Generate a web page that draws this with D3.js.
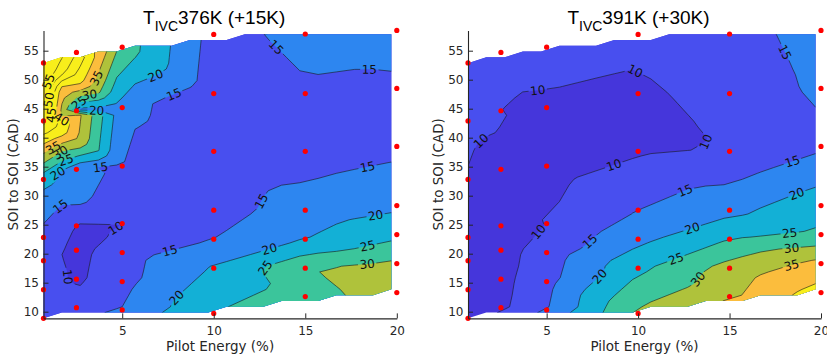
<!DOCTYPE html>
<html>
<head>
<meta charset="utf-8">
<script src="https://cdn.jsdelivr.net/npm/d3@7"></script>
<style>
  body { margin: 0; background: #fff; }
  svg { display: block; }
  text { font-family: "DejaVu Sans", sans-serif; }
</style>
</head>
<body>
<svg id="chart" width="827" height="356"></svg>
<script>
// Measurement grid: one column of SOI-to-SOI separations per pilot energy
const pilotEnergy = [0.7, 2.5, 5, 10, 15, 20];
const soiSeparation = [
  [52.9, 42.9, 32.8, 22.8, 18.8, 13.8, 8.85],
  [54.7, 44.65, 34.55, 24.8, 20.6, 15.6, 10.7],
  [55.6, 45.2, 35.1, 25.2, 20.2, 15.2, 10.3],
  [57.8, 47.6, 37.65, 27.5, 22.5, 17.5, 9.7],
  [57.88, 47.6, 37.65, 27.5, 22.5, 17.5, 12.6],
  [58.5, 48.5, 38.5, 28.3, 23.3, 18.3, 13.3]
];

// Measured response at each point, same layout as soiSeparation
const values376 = [
  [62, 52, 21.5, 13, 12, 12, 13],
  [50, 18, 16, 9.5, 8.4, 9, 12],
  [28, 16.5, 13.5, 10, 13, 13.5, 15],
  [13, 12, 11.5, 13, 15, 20.5, 25],
  [16.7, 14.3, 12.5, 17.3, 20, 29.5, 27.5],
  [17.5, 14, 13.7, 19, 23.7, 31, 33]
];
const values391 = [
  [12, 11, 9.7, 8.5, 8.5, 8.5, 8.5],
  [12, 10, 8, 8, 8, 8.5, 9],
  [12.5, 9, 8, 10, 12.5, 13.5, 14.5],
  [12, 8.5, 9.5, 15, 18.7, 24, 31],
  [13.5, 13, 10.4, 18.6, 25, 32, 34],
  [16.5, 15.6, 14.2, 23, 26, 36.5, 42]
];

const levels = [10, 15, 20, 25, 30, 35, 40, 45, 50, 55];
// fill colour below the first level, then one per level (saturating above 40)
const bandColors = ["#4536db", "#484fef", "#2d86f0", "#13b0d6", "#3bc59b",
                    "#afc23b", "#fbbd3d", "#f8ee1b", "#f8ee1b", "#f8ee1b", "#f8ee1b"];
const xTicks = [5, 10, 15, 20];
const yTicks = [10, 15, 20, 25, 30, 35, 40, 45, 50, 55];

// inline contour labels: [level, pilot energy, SOI separation]
const labels376 = [
  [15, 13.16, 54.8], [15, 18.5, 51.4], [15, 18.4, 35.0], [20, 6.9, 50.1], [15, 7.8, 47.65],
  [35, 3.65, 50.2], [30, 3.2, 47.65], [25, 2.58, 46.2], [20, 3.6, 44.5],
  [55, 1.2, 49.4], [50, 1.05, 46.5], [45, 1.05, 43.9], [40, 1.6, 42.2],
  [35, 1.15, 38.7], [30, 1.6, 37.6], [25, 1.87, 36.7], [20, 1.4, 34.1], [15, 3.77, 35.9],
  [15, 1.7, 27.8], [10, 4.6, 24.65], [10, 1.97, 16.0], [15, 7.6, 20.6], [20, 7.9, 12.6],
  [15, 13.16, 28.1], [20, 13.0, 21.3], [25, 12.6, 18.05],
  [20, 18.9, 25.5], [25, 18.4, 21.5], [30, 18.35, 19.4]
];
const labels391 = [
  [10, 9.92, 51.97], [10, 4.54, 47.4], [10, 13.93, 39.0], [10, 1.63, 38.75], [10, 8.64, 35.6],
  [15, 17.9, 54.55], [15, 18.5, 35.3], [10, 4.54, 23.8], [15, 12.56, 31.0], [15, 7.19, 22.7],
  [20, 18.67, 30.4], [20, 12.93, 24.65], [20, 7.82, 16.3], [25, 18.3, 23.2], [25, 11.9, 20.6],
  [30, 18.4, 20.6], [30, 13.56, 14.9], [35, 18.4, 17.9]
];

const panels = [
  { title: "376K (+15K)", values: values376, labels: labels376, left: 43.5, right: 396.8 },
  { title: "391K (+30K)", values: values391, labels: labels391, left: 468.0, right: 821.0 }
];

const svg = d3.select("#chart");
svg.append("rect").attr("width", 827).attr("height", 356).attr("fill", "#fff");

const axisColor = "#262626";
const xMin = d3.min(pilotEnergy), xMax = d3.max(pilotEnergy);
const yMin = d3.min(soiSeparation.flat()), yMax = d3.max(soiSeparation.flat());

// linear interpolation over a Delaunay triangulation of the scattered points
function makeInterpolator(pts, vals) {
  const tri = d3.Delaunay.from(pts).triangles;
  return function (x, y) {
    for (let t = 0; t < tri.length; t += 3) {
      const a = tri[t], b = tri[t + 1], c = tri[t + 2];
      const [x1, y1] = pts[a], [x2, y2] = pts[b], [x3, y3] = pts[c];
      const det = (y2 - y3) * (x1 - x3) + (x3 - x2) * (y1 - y3);
      if (Math.abs(det) < 1e-12) continue;
      const l1 = ((y2 - y3) * (x - x3) + (x3 - x2) * (y - y3)) / det;
      const l2 = ((y3 - y1) * (x - x3) + (x1 - x3) * (y - y3)) / det;
      const l3 = 1 - l1 - l2;
      const e = -1e-9;
      if (l1 >= e && l2 >= e && l3 >= e) return l1 * vals[a] + l2 * vals[b] + l3 * vals[c];
    }
    return NaN;
  };
}

function nearestOnRings(rings, px, py) {
  let best = null;
  rings.forEach(r => {
    for (let k = 0; k < r.length - 1; k++) {
      const [ax, ay] = r[k], [bx, by] = r[k + 1];
      const dx = bx - ax, dy = by - ay, L = dx * dx + dy * dy;
      if (L < 1e-6) continue;
      let t = ((px - ax) * dx + (py - ay) * dy) / L;
      t = Math.max(0, Math.min(1, t));
      const qx = ax + t * dx, qy = ay + t * dy;
      const d = (qx - px) ** 2 + (qy - py) ** 2;
      if (!best || d < best.d) best = { d, x: qx, y: qy, ang: Math.atan2(dy, dx) * 180 / Math.PI };
    }
  });
  return best;
}

panels.forEach((p, pi) => {
  const x = d3.scaleLinear().domain([xMin, xMax]).range([p.left, p.right]);
  const y = d3.scaleLinear().domain([yMin, yMax]).range([318.37, 30.4]);

  const pts = [], vals = [];
  pilotEnergy.forEach((e, i) => soiSeparation[i].forEach((s, j) => {
    pts.push([e, s]); vals.push(p.values[i][j]);
  }));
  const interp = makeInterpolator(pts, vals);

  // regular grid with unit spacing from the data minimum
  const nx = Math.floor(xMax - xMin + 1e-9) + 1;
  const ny = Math.floor(yMax - yMin + 1e-9) + 1;
  const raw = new Float64Array(nx * ny);
  for (let j = 0; j < ny; j++)
    for (let i = 0; i < nx; i++)
      raw[j * nx + i] = interp(xMin + i, yMin + j);
  const isValid = (i, j) => !isNaN(raw[j * nx + i]);

  // extend values into the empty nodes so iso-lines stay continuous near the hull
  const filled = Float64Array.from(raw);
  for (let pass = 0; pass < 200; pass++) {
    let missing = 0;
    const prev = Float64Array.from(filled);
    for (let j = 0; j < ny; j++) for (let i = 0; i < nx; i++) {
      const k = j * nx + i;
      if (!isNaN(prev[k])) continue;
      let s = 0, n = 0;
      [[1, 0], [-1, 0], [0, 1], [0, -1]].forEach(([di, dj]) => {
        const ii = i + di, jj = j + dj;
        if (ii >= 0 && ii < nx && jj >= 0 && jj < ny && !isNaN(prev[jj * nx + ii])) { s += prev[jj * nx + ii]; n++; }
      });
      if (n) filled[k] = s / n; else missing++;
    }
    if (!missing) break;
  }

  const toPx = ([cx, cy]) => [x(xMin + cx - 0.5), y(yMin + cy - 0.5)];
  const contours = d3.contours().size([nx, ny]);
  const ringsFor = (t) => contours.contour(filled, t).coordinates
    .flatMap(poly => poly.map(ring => ring.map(toPx)));
  const ringPath = (rings) => rings.map(r => "M" + r.map(q => q[0].toFixed(2) + "," + q[1].toFixed(2)).join("L") + "Z").join("");

  // clip region: grid cells (or half cells) whose corners all hold data
  let clipD = "";
  for (let j = 0; j < ny - 1; j++) for (let i = 0; i < nx - 1; i++) {
    const c = [[i, j], [i + 1, j], [i + 1, j + 1], [i, j + 1]].filter(([a, b]) => isValid(a, b));
    if (c.length >= 3) clipD += "M" + c.map(([a, b]) => x(xMin + a).toFixed(2) + "," + y(yMin + b).toFixed(2)).join("L") + "Z";
  }
  const defs = svg.append("defs");
  defs.append("clipPath").attr("id", "hull" + pi).append("path").attr("d", clipD);

  const g = svg.append("g");
  const fillG = g.append("g").attr("clip-path", `url(#hull${pi})`);
  const bandThresholds = [-1e9].concat(levels);
  bandThresholds.forEach((t, k) => {
    fillG.append("path").attr("d", ringPath(ringsFor(t)))
      .attr("fill", bandColors[k]).attr("stroke", "none");
  });

  // label positions snapped to their iso-lines
  const lineRings = {};
  levels.forEach(l => lineRings[l] = ringsFor(l));
  const placed = p.labels.map(([lev, lx, ly]) => {
    const tx = x(lx), ty = y(ly);
    const hit = nearestOnRings(lineRings[lev], tx, ty);
    let ang = 0, X = tx, Y = ty;
    if (hit && hit.d < 400) {
      X = hit.x; Y = hit.y; ang = hit.ang;
      if (ang > 90) ang -= 180;
      if (ang < -90) ang += 180;
    }
    return { lev, X, Y, ang };
  });

  const mask = defs.append("mask").attr("id", "lblmask" + pi).attr("maskUnits", "userSpaceOnUse")
    .attr("x", 0).attr("y", 0).attr("width", 827).attr("height", 356);
  mask.append("rect").attr("width", 827).attr("height", 356).attr("fill", "#fff");
  placed.forEach(d => {
    const w = String(d.lev).length * 7.7 + 3;
    mask.append("rect").attr("x", -w / 2).attr("y", -6).attr("width", w).attr("height", 12)
      .attr("fill", "#000").attr("transform", `translate(${d.X},${d.Y}) rotate(${d.ang})`);
  });

  const lineG = fillG.append("g").attr("mask", `url(#lblmask${pi})`);
  levels.forEach(l => {
    lineG.append("path").attr("d", ringPath(lineRings[l]))
      .attr("fill", "none").attr("stroke", "#1a1a1a").attr("stroke-width", 0.6)
      .attr("stroke-linejoin", "round");
  });

  g.append("g").selectAll("text").data(placed).join("text")
    .attr("transform", d => `translate(${d.X},${d.Y}) rotate(${d.ang})`)
    .attr("text-anchor", "middle").attr("dy", "0.36em")
    .attr("font-size", 12).attr("fill", "#111")
    .text(d => d.lev);

  // measurement points
  g.append("g").selectAll("circle").data(pts).join("circle")
    .attr("cx", d => x(d[0])).attr("cy", d => y(d[1])).attr("r", 2.6)
    .attr("fill", "#ff0000");

  // axes
  const xAxis = d3.axisBottom(x).tickValues(xTicks).tickSizeInner(-5).tickSizeOuter(0).tickPadding(8.5);
  const yAxis = d3.axisLeft(y).tickValues(yTicks).tickSizeInner(-5).tickSizeOuter(0).tickPadding(4.5);
  const gx = g.append("g").attr("transform", `translate(0,${y(yMin)})`).call(xAxis);
  const gy = g.append("g").attr("transform", `translate(${x(xMin)},0)`).call(yAxis);
  [gx, gy].forEach(a => {
    a.select(".domain").attr("stroke", axisColor).attr("stroke-width", 1.1);
    a.selectAll(".tick line").attr("stroke", axisColor).attr("stroke-width", 1);
    a.selectAll(".tick text").attr("fill", axisColor).attr("font-size", 12)
      .attr("font-family", "'DejaVu Sans', sans-serif");
  });

  const cx = (p.left + p.right) / 2;
  g.append("text").attr("x", cx).attr("y", 350.5).attr("text-anchor", "middle")
    .attr("font-size", 13.5).attr("fill", axisColor).text("Pilot Energy (%)");
  g.append("text").attr("transform", `translate(${p.left - 25.2},${(y(yMin) + y(yMax)) / 2}) rotate(-90)`)
    .attr("text-anchor", "middle").attr("font-size", 13.5).attr("fill", axisColor)
    .text("SOI to SOI (CAD)");

  const title = g.append("text").attr("x", cx - 6).attr("y", 23.5).attr("text-anchor", "middle")
    .attr("fill", "#000").style("font-family", "'Liberation Sans', Arial, sans-serif");
  title.append("tspan").attr("font-size", 19).text("T");
  title.append("tspan").attr("font-size", 14).attr("dy", 7).text("IVC");
  title.append("tspan").attr("font-size", 19).attr("dy", -7).text(p.title);
});
</script>
</body>
</html>
